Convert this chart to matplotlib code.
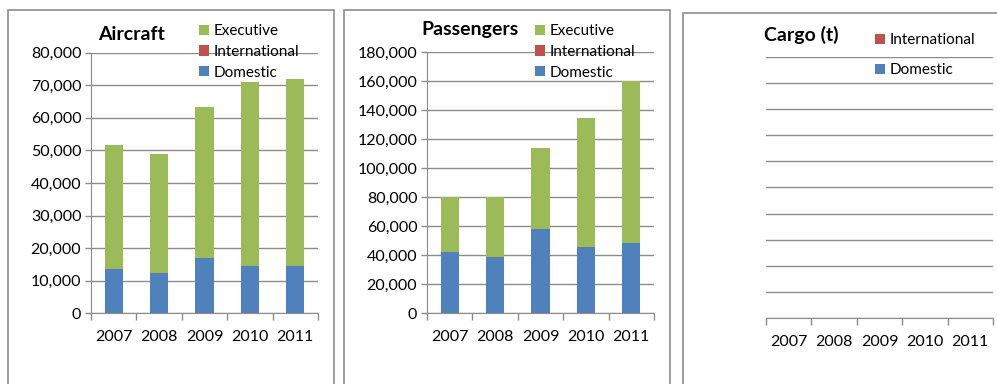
import numpy as np
import matplotlib
matplotlib.use('Agg')
import matplotlib.pyplot as plt
from matplotlib.patches import Rectangle, Patch
from matplotlib.ticker import FuncFormatter, MultipleLocator, FixedLocator

plt.rcParams['font.family'] = ['Lato', 'DejaVu Sans']

years = ['2007', '2008', '2009', '2010', '2011']

aircraft_domestic = [13700, 12300, 17050, 14600, 14600]
aircraft_international = [0, 0, 0, 0, 0]
aircraft_executive = [37900, 36600, 46350, 56200, 57300]

passengers_domestic = [42600, 38500, 58100, 45400, 48200]
passengers_international = [0, 0, 0, 0, 0]
passengers_executive = [37600, 41900, 55900, 89600, 112300]

cargo_domestic = [0, 0, 0, 0, 0]
cargo_international = [0, 0, 0, 0, 0]

BLUE = '#4F81BD'
RED = '#C0504D'
GREEN = '#9BBB59'
GRID = '#8C8C8C'

W, H = 997, 384
fig = plt.figure(figsize=(W / 100, H / 100), dpi=100)


def box(l, t, r, b):
    # pixel box (from top-left) -> figure fraction rect
    return [l / W, 1 - b / H, (r - l) / W, (b - t) / H]


# chart area frames
for l, t, r in [(7.5, 10.5, 333.5), (343.5, 10.5, 669.5), (682.5, 13.5, 1010)]:
    fig.add_artist(Rectangle((l / W, -0.1), (r - l) / W, 1.1 - t / H,
                             transform=fig.transFigure, fill=False,
                             edgecolor='#8C8C8C', lw=1.2))


def stacked(ax, series, ymax, step, show_y=True):
    x = np.arange(len(years))
    bottom = np.zeros(len(years))
    for vals, color in series:
        ax.bar(x, vals, 0.4, bottom=bottom, color=color, lw=0)
        bottom += np.array(vals)
    ax.set_xlim(-0.5, len(years) - 0.5)
    ax.set_ylim(0, ymax)
    ax.yaxis.set_major_locator(MultipleLocator(step))
    ax.yaxis.set_major_formatter(FuncFormatter(lambda v, p: f'{v:,.0f}'))
    ax.grid(axis='y', color=GRID, lw=1)
    ax.set_axisbelow(True)
    ax.set_xticks(x)
    ax.set_xticklabels(years)
    ax.xaxis.set_minor_locator(FixedLocator(np.arange(-0.5, len(years), 1.0)))
    ax.tick_params(axis='x', which='major', length=0, pad=12, labelsize=11.5)
    ax.tick_params(axis='x', which='minor', length=5, width=1, color=GRID)
    for s in ['top', 'right']:
        ax.spines[s].set_visible(False)
    ax.spines['bottom'].set_color(GRID)
    ax.spines['left'].set_color(GRID)
    if show_y:
        ax.tick_params(axis='y', length=4, width=1, color=GRID, pad=3, labelsize=11.5)
    else:
        ax.spines['left'].set_visible(False)
        ax.tick_params(axis='y', left=False, labelleft=False)


def legend(ax, names, colors, x, y, spacing):
    handles = [Patch(facecolor=c, edgecolor='none') for c in colors]
    ax.legend(handles, names, loc='upper left', bbox_to_anchor=(x / W, 1 - y / H),
              bbox_transform=fig.transFigure, frameon=False, fontsize=11,
              handlelength=0.65, handleheight=0.65, handletextpad=0.3,
              borderpad=0, borderaxespad=0, labelspacing=spacing)


# Aircraft
ax1 = fig.add_axes(box(91, 52.5, 318, 313.3))
stacked(ax1, [(aircraft_domestic, BLUE), (aircraft_international, RED),
              (aircraft_executive, GREEN)], 80000, 10000)
fig.text(132 / W, 1 - 40 / H, 'Aircraft', ha='center', va='baseline',
         fontsize=14, fontweight='bold')
legend(ax1, ['Executive', 'International', 'Domestic'], [GREEN, RED, BLUE], 199, 24, 0.45)

# Passengers
ax2 = fig.add_axes(box(427, 52.3, 654, 313.3))
stacked(ax2, [(passengers_domestic, BLUE), (passengers_international, RED),
              (passengers_executive, GREEN)], 180000, 20000)
fig.text(469.5 / W, 1 - 35 / H, 'Passengers', ha='center', va='baseline',
         fontsize=14, fontweight='bold')
legend(ax2, ['Executive', 'International', 'Domestic'], [GREEN, RED, BLUE], 535, 24, 0.45)

# Cargo
ax3 = fig.add_axes(box(766, 57, 993, 318))
stacked(ax3, [(cargo_domestic, BLUE), (cargo_international, RED)], 1.0, 0.1, show_y=False)
fig.text(801 / W, 1 - 40.7 / H, 'Cargo (t)', ha='center', va='baseline',
         fontsize=14, fontweight='bold')
legend(ax3, ['International', 'Domestic'], [RED, BLUE], 875, 33, 1.06)

fig.savefig('out.png', dpi=100)
